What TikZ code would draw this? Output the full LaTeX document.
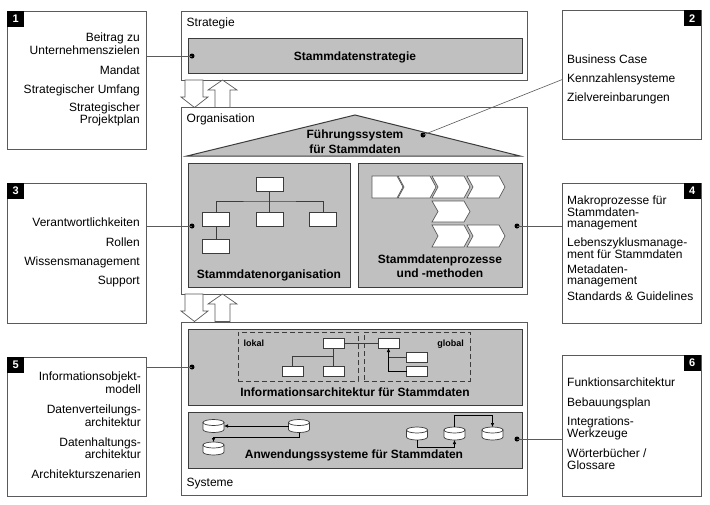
\documentclass[tikz,border=0pt]{standalone}
\usepackage{fontspec}
\setmainfont{Liberation Sans}
\usetikzlibrary{arrows.meta}
\definecolor{boxgray}{RGB}{192,192,192}
\definecolor{edgec}{RGB}{60,60,60}
\definecolor{framec}{RGB}{90,90,90}
\begin{document}
\begin{tikzpicture}[x=1pt,y=-1pt,
 sidebox/.style={draw=framec,line width=0.8pt,fill=white,inner sep=0,outer sep=0,anchor=north west},
 layerbox/.style={draw=framec,line width=0.8pt,fill=white,inner sep=0,outer sep=0,anchor=north west},
 gbox/.style={draw=edgec,line width=1pt,fill=boxgray,inner sep=0,outer sep=0,anchor=north west},
 wbox/.style={draw=edgec,line width=0.6pt,fill=white,inner sep=0,outer sep=0,minimum width=21,minimum height=10},
 obox/.style={draw=edgec,line width=0.6pt,fill=white,inner sep=0,outer sep=0,minimum width=27,minimum height=14},
 dashbox/.style={draw=edgec,line width=0.7pt,dash pattern=on 5pt off 3pt,inner sep=0,outer sep=0,anchor=north west},
 dbn/.style={inner sep=0,outer sep=0,minimum width=21,minimum height=13},
 blackdot/.style={circle,fill=black,inner sep=0,minimum size=5},
 conn/.style={draw=framec,line width=0.6pt},
 thinline/.style={draw=edgec,line width=0.6pt},
 arr/.style={draw=black,line width=0.6pt,-{Latex[length=4pt,width=3.5pt]}},
 numlbl/.style={fill=black,text=white,font=\bfseries\fontsize{11}{11}\selectfont,inner sep=0,minimum width=17,minimum height=16},
 txt/.style={inner sep=0,font=\fontsize{12}{12}\selectfont},
 rtxt/.style={txt,anchor=base east},
 ltxt/.style={txt,anchor=base west},
 btxt/.style={inner sep=0,font=\bfseries\fontsize{12}{12}\selectfont,anchor=base},
 stxt/.style={inner sep=0,font=\bfseries\fontsize{9}{9}\selectfont},
 blockarrow/.style={draw=framec,fill=white,line width=0.7pt,line join=miter},
 chev/.style={draw=framec,fill=white,line width=0.7pt},
 cyl/.pic={
   \path[fill=white,draw=edgec,line width=0.7pt] (-10.5,-3.5) -- (-10.5,3.5)
     arc[start angle=180,end angle=0,x radius=10.5,y radius=3] -- (10.5,-3.5) -- cycle;
   \draw[fill=white,draw=edgec,line width=0.7pt] (0,-3.5) ellipse[x radius=10.5,y radius=3];
 }
]
\useasboundingbox (0,0) rectangle (710,504);
\fill[white] (0,0) rectangle (710,504);

% side boxes
\node[sidebox,minimum width=139,minimum height=138] (b1) at (7,11) {};
\node[sidebox,minimum width=139,minimum height=129] (b2) at (562,10) {};
\node[sidebox,minimum width=139,minimum height=140] (b3) at (7,183) {};
\node[sidebox,minimum width=139,minimum height=140] (b4) at (562,183) {};
\node[sidebox,minimum width=139,minimum height=139] (b5) at (7,357) {};
\node[sidebox,minimum width=139,minimum height=141] (b6) at (562,355) {};
\node[numlbl,anchor=north west] (n1) at (b1.north west) {1};
\node[numlbl,anchor=north east] (n2) at (b2.north east) {2};
\node[numlbl,anchor=north west] (n3) at (b3.north west) {3};
\node[numlbl,anchor=north east] (n4) at (b4.north east) {4};
\node[numlbl,anchor=north west] (n5) at (b5.north west) {5};
\node[numlbl,anchor=north east] (n6) at (b6.north east) {6};

% layers
\node[layerbox,minimum width=346,minimum height=69] (strat) at (181,11) {};
\node[layerbox,minimum width=346,minimum height=187] (org) at (181,107) {};
\node[layerbox,minimum width=346,minimum height=173] (sys) at (181,322) {};
\node[ltxt] (lstrat) at (186.5,26.7) {Strategie};
\node[ltxt] (lorg) at (186.5,122.7) {Organisation};
\node[ltxt] (lsys) at (186.5,486) {Systeme};

% block arrows between layers
\foreach \dy in {0,214}{
  \begin{scope}[shift={(0,\dy)}]
  \draw[blockarrow] (185,80) -- (203,80) -- (203,97) -- (208,97) -- (194.5,107.5) -- (181,97) -- (185,97) -- cycle;
  \draw[blockarrow] (215,107.5) -- (230,107.5) -- (230,90) -- (237,90) -- (222.5,80) -- (208,90) -- (215,90) -- cycle;
  \end{scope}
}

% strategy
\node[gbox,minimum width=334,minimum height=35] (stratg) at (188,38) {};
\node[btxt] (tstrat) at (355,60) {Stammdatenstrategie};

% roof
\draw[draw=edgec,line width=1pt,fill=boxgray,line join=miter] (187,156) -- (355,115) -- (520,156) -- cycle;
\node[btxt] (troof1) at (355,138.3) {Führungssystem};
\node[btxt] (troof2) at (355,153.3) {für Stammdaten};

% organisation boxes
\node[gbox,minimum width=162,minimum height=124] (orgbox) at (188,163) {};
\node[gbox,minimum width=164,minimum height=124] (procbox) at (358,163) {};
\node[btxt] (torg) at (269,278.3) {Stammdatenorganisation};
\node[btxt] (tproc1) at (440,263.3) {Stammdatenprozesse};
\node[btxt] (tproc2) at (440,277.3) {und -methoden};

% org chart
\node[obox] (ob1) at (269.5,184) {};
\node[obox] (ob2) at (216,219) {};
\node[obox] (ob3) at (269.5,219) {};
\node[obox] (ob4) at (323,219) {};
\node[obox] (ob5) at (216,246) {};
\coordinate (oh) at (269.5,201);
\draw[thinline] (ob1.south) -- (ob3.north);
\draw[thinline] (ob2.north) |- (oh) -| (ob4.north);
\draw[thinline] (ob2.south) -- (ob5.north);

% chevrons
\draw[chev] (372,176) -- (397,176) -- (403,187) -- (397,198) -- (372,198) -- cycle;
\foreach \xo/\ya/\yb in {398/176/198,432/176/198,467/176/198,432/201/222,432/225/247,467/225/247}{
  \draw[chev] (\xo,\ya) -- ({\xo+32},\ya) -- ({\xo+38},{(\ya+\yb)/2}) -- ({\xo+32},\yb) -- (\xo,\yb) -- ({\xo+6},{(\ya+\yb)/2}) -- cycle;
}

% information architecture
\node[gbox,minimum width=334,minimum height=76] (infobox) at (188,329) {};
\node[dashbox,minimum width=120,minimum height=49] (lok) at (238,332) {};
\node[dashbox,minimum width=106,minimum height=49] (glob) at (364,332) {};
\node[stxt,anchor=base west] (tlok) at (243.3,346.7) {lokal};
\node[stxt,anchor=base east] (tglob) at (464,346.7) {global};
\node[wbox] (la) at (333.5,343) {};
\node[wbox] (lb) at (292.5,371) {};
\node[wbox] (lc) at (333.5,371) {};
\node[wbox] (ga) at (388.5,343) {};
\node[wbox] (gb) at (417,357) {};
\node[wbox] (gc) at (417,371) {};
\coordinate (lh) at (333.5,356);
\draw[thinline] (la.south) -- (lc.north);
\draw[thinline] (lb.north) |- (lh);
\draw[thinline] (la.east) -- (ga.west);
\draw[thinline] (gb.west) -- (gb.west -| ga.south);
\draw[arr] (gc.west) -| (ga.south);
\node[btxt] (tinfo) at (355,396.7) {Informationsarchitektur für Stammdaten};

% application systems
\node[gbox,minimum width=334,minimum height=56] (appbox) at (188,412) {};
\node[dbn] (db1) at (213.5,426) {};
\node[dbn] (db2) at (299,426) {};
\node[dbn] (db3) at (213.5,448.5) {};
\node[dbn] (db4) at (417,433.5) {};
\node[dbn] (db5) at (454.5,433.5) {};
\node[dbn] (db6) at (492.5,433.5) {};
\foreach \d in {db1,db2,db3,db4,db5,db6}{ \pic at (\d) {cyl}; }
\draw[arr] (db2.west) -- (db1.east);
\draw[arr] (db2.south) -- ++(0,5) -| (db3.north);
\draw[arr] (db4.south) -- ++(0,7) -| (db5.south);
\draw[arr] (db5.north) -- ++(0,-12) -| (db6.north);
\node[btxt] (tapp) at (354,458.3) {Anwendungssysteme für Stammdaten};

% side texts
\node[rtxt] (t1a) at (140,41.7) {Beitrag zu};
\node[rtxt] (t1b) at (140,54) {Unternehmenszielen};
\node[rtxt] (t1c) at (140,74) {Mandat};
\node[rtxt] (t1d) at (140,93.3) {Strategischer Umfang};
\node[rtxt] (t1e) at (140,111.7) {Strategischer};
\node[rtxt] (t1f) at (140,123.3) {Projektplan};

\node[ltxt] (t2a) at (567,63.3) {Business Case};
\node[ltxt] (t2b) at (567,82.7) {Kennzahlensysteme};
\node[ltxt] (t2c) at (567,101.7) {Zielvereinbarungen};

\node[rtxt] (t3a) at (140,226.5) {Verantwortlichkeiten};
\node[rtxt] (t3b) at (140,246) {Rollen};
\node[rtxt] (t3c) at (140,265) {Wissensmanagement};
\node[rtxt] (t3d) at (140,284.5) {Support};

\node[ltxt] (t4a) at (567,204.5) {Makroprozesse für};
\node[ltxt] (t4b) at (567,216) {Stammdaten-};
\node[ltxt] (t4c) at (567,227.5) {management};
\node[ltxt] (t4d) at (567,246.5) {Lebenszyklusmanage-};
\node[ltxt] (t4e) at (567,258) {ment für Stammdaten};
\node[ltxt] (t4f) at (567,273) {Metadaten-};
\node[ltxt] (t4g) at (567,284.5) {management};
\node[ltxt] (t4h) at (567,300) {Standards \& Guidelines};

\node[rtxt] (t5a) at (141,380) {Informationsobjekt-};
\node[rtxt] (t5b) at (141,393) {modell};
\node[rtxt] (t5c) at (141,413.5) {Datenverteilungs-};
\node[rtxt] (t5d) at (141,426) {architektur};
\node[rtxt] (t5e) at (141,446) {Datenhaltungs-};
\node[rtxt] (t5f) at (141,458.5) {architektur};
\node[rtxt] (t5g) at (141,478) {Architekturszenarien};

\node[ltxt] (t6a) at (567,386.7) {Funktionsarchitektur};
\node[ltxt] (t6b) at (567,406.7) {Bebauungsplan};
\node[ltxt] (t6c) at (567,425) {Integrations-};
\node[ltxt] (t6d) at (567,437.3) {Werkzeuge};
\node[ltxt] (t6e) at (567,457.3) {Wörterbücher /};
\node[ltxt] (t6f) at (567,469.3) {Glossare};

% dots and connectors
\node[blackdot] (d1) at (192,56) {};
\node[blackdot] (d2) at (423,135) {};
\node[blackdot] (d3) at (192,226) {};
\node[blackdot] (d4) at (517,226) {};
\node[blackdot] (d5) at (192,367) {};
\node[blackdot] (d6) at (517,439) {};
\draw[conn] (b1.east |- d1) -- (d1.center);
\draw[conn] (d2.center) -- (b2.west |- t2b.west);
\draw[conn] (b3.east |- d3) -- (d3.center);
\draw[conn] (d4.center) -- (b4.west |- d4);
\draw[conn] (b5.east |- d5) -- (d5.center);
\draw[conn] (d6.center) -- (b6.west |- d6);
\end{tikzpicture}
\end{document}
